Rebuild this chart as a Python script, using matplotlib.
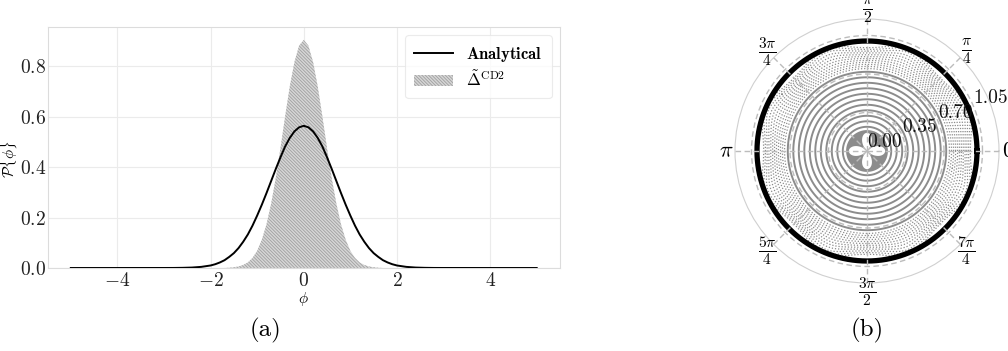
import numpy as np
import matplotlib
matplotlib.use("Agg")
import matplotlib.pyplot as plt

plt.rcParams['font.family'] = 'cmr10'
plt.rcParams['mathtext.fontset'] = 'cm'
plt.rcParams['axes.formatter.use_mathtext'] = True
plt.rcParams['hatch.linewidth'] = 0.6
plt.rcParams['axes.unicode_minus'] = True

# ---- panel (a): probability densities of phi ----
phi_analytical = [-5.0, -4.0, -3.0, -2.8, -2.6, -2.4, -2.2, -2.0, -1.9, -1.8, -1.7, -1.6,
                  -1.5, -1.4, -1.3, -1.2, -1.1, -1.0, -0.9, -0.8, -0.7, -0.6, -0.5, -0.4,
                  -0.3, -0.2, -0.1, 0.0, 0.1, 0.2, 0.3, 0.4, 0.5, 0.6, 0.7, 0.8, 0.9, 1.0,
                  1.1, 1.2, 1.3, 1.4, 1.5, 1.6, 1.7, 1.8, 1.9, 2.0, 2.2, 2.4, 2.6, 2.8,
                  3.0, 4.0, 5.0]
p_analytical = [0.0, 0.0, 0.0001, 0.0002, 0.0007, 0.0018, 0.0045, 0.010, 0.015, 0.022,
                0.031, 0.044, 0.059, 0.079, 0.104, 0.133, 0.168, 0.208, 0.251, 0.297,
                0.345, 0.393, 0.439, 0.482, 0.516, 0.542, 0.558, 0.564, 0.558, 0.542,
                0.516, 0.482, 0.439, 0.393, 0.345, 0.297, 0.251, 0.208, 0.168, 0.133,
                0.104, 0.079, 0.059, 0.044, 0.031, 0.022, 0.015, 0.010, 0.0045, 0.0018,
                0.0007, 0.0002, 0.0001, 0.0, 0.0]

phi_cd2 = [-1.7, -1.6, -1.5, -1.4, -1.3, -1.2, -1.1, -1.0, -0.9, -0.8, -0.7, -0.6, -0.5,
           -0.4, -0.3, -0.2, -0.1, 0.0, 0.1, 0.2, 0.3, 0.4, 0.5, 0.6, 0.7, 0.8, 0.9,
           1.0, 1.1, 1.2, 1.3, 1.4, 1.5, 1.6, 1.7]
p_cd2 = [0.0, 0.001, 0.003, 0.006, 0.012, 0.022, 0.040, 0.068, 0.112, 0.173, 0.255,
         0.357, 0.475, 0.601, 0.720, 0.817, 0.882, 0.905, 0.882, 0.817, 0.720, 0.601,
         0.475, 0.357, 0.255, 0.173, 0.112, 0.068, 0.040, 0.022, 0.012, 0.006, 0.003,
         0.001, 0.0]

x_ticks = [-4, -2, 0, 2, 4]
y_ticks = [0.0, 0.2, 0.4, 0.6, 0.8]

# ---- panel (b): polar contour levels ----
solid_levels = [0.22, 0.27, 0.32, 0.37, 0.42, 0.47, 0.52, 0.57, 0.62, 0.67, 0.72]
dotted_levels = [0.75, 0.77, 0.79, 0.81, 0.83, 0.85, 0.87, 0.89, 0.91, 0.93, 0.95, 0.97]
boundary_radius = 1.0
r_ticks = [0.00, 0.35, 0.70, 1.05]
r_labels = ['0.00', '0.35', '0.70', '1.05']
theta_labels = [r'$0$', r'$\frac{\pi}{4}$', r'$\frac{\pi}{2}$', r'$\frac{3\pi}{4}$',
                r'$\pi$', r'$\frac{5\pi}{4}$', r'$\frac{3\pi}{2}$', r'$\frac{7\pi}{4}$']

fig = plt.figure(figsize=(10.08, 3.51), dpi=100)

ax = fig.add_axes([47.5/1008, 83/351, 512.5/1008, 241/351])
ax.set_facecolor('white')
ax.fill_between(phi_cd2, p_cd2, 0, facecolor='#d6d6d6', edgecolor='#a0a0a0',
                hatch='\\' * 10, linewidth=0,
                label=r'$\tilde{\mathbf{\Delta}}^{\mathrm{CD2}}$', zorder=2)
ax.plot(phi_analytical, p_analytical, color='black', lw=1.4,
        label=r'$\mathbf{Analytical}$', zorder=3)
ax.set_xlim(-5.5, 5.5)
ax.set_ylim(0, 0.956)
ax.set_xticks(x_ticks)
ax.set_yticks(y_ticks)
ax.grid(True, color='#ebebeb', lw=0.8)
ax.set_axisbelow(True)
for s in ax.spines.values():
    s.set_color('#dcdcdc')
    s.set_linewidth(0.8)
ax.tick_params(length=0, labelsize=14, colors='#222222')
ax.tick_params(axis='y', pad=1)
ax.tick_params(axis='x', pad=3)
ax.set_xlabel(r'$\phi$', fontsize=11, labelpad=0)
ax.set_ylabel(r'$\mathcal{P}\{\phi\}$', fontsize=11)
ax.yaxis.set_label_coords(-0.053, 0.45)
handles, labels = ax.get_legend_handles_labels()
leg = ax.legend(handles[::-1], labels[::-1], loc='upper right',
                fontsize=12, frameon=True, handlelength=2.3, borderpad=0.55,
                labelspacing=0.35, fancybox=True)
leg.get_frame().set_edgecolor('#e6e6e6')
leg.get_frame().set_linewidth(0.8)

# ---- polar panel ----
pax = fig.add_axes([735/1008, 68/351, 264/1008, 264/351], projection='polar')
pax.set_ylim(0, 1.2)

tt = np.linspace(0, 2*np.pi, 1441)
rr = np.linspace(0, 1.2, 361)
T, R = np.meshgrid(tt, rr)
weight = np.clip((R - 0.72) / 0.28, 0, None) ** 2
Z = R + 0.05 * weight * np.cos(8 * T)
Z = np.where(R > 0.985, np.nan, Z)
pax.contour(T, R, Z, levels=solid_levels, colors='#8c8c8c', linewidths=1.4, zorder=1)
pax.contour(T, R, Z, levels=dotted_levels, colors='#8c8c8c', linewidths=0.9,
            linestyles=[(0, (1, 1.5))], zorder=1)

# central disk with four open petals
pax.fill(tt, np.full_like(tt, 0.19), color='#8c8c8c', lw=0, zorder=1)
pax.fill(tt, 0.165 * np.abs(np.cos(2 * tt)), color='white', lw=0, zorder=1)

pax.plot(tt, np.full_like(tt, boundary_radius), color='black', lw=3.8, zorder=2)

pax.set_axisbelow(False)
pax.set_rticks(r_ticks)
pax.set_yticklabels(r_labels)
pax.set_rlabel_position(22.5)
pax.set_xticks(np.arange(8) * np.pi / 4)
pax.set_xticklabels(theta_labels)
pax.tick_params(axis='x', labelsize=16, pad=-4)
pax.tick_params(axis='y', labelsize=14, colors='#111111')
pax.grid(True, color='#bcbcbc', lw=1.0, linestyle=(0, (4, 2.5)))
pax.spines['polar'].set_color('#d0d0d0')
pax.spines['polar'].set_linewidth(0.8)

fig.text(265/1008, 1 - 330/351, '(a)', ha='center', va='center', fontsize=18)
fig.text(867/1008, 1 - 330/351, '(b)', ha='center', va='center', fontsize=18)

fig.savefig('out.png', dpi=100, facecolor='white')
